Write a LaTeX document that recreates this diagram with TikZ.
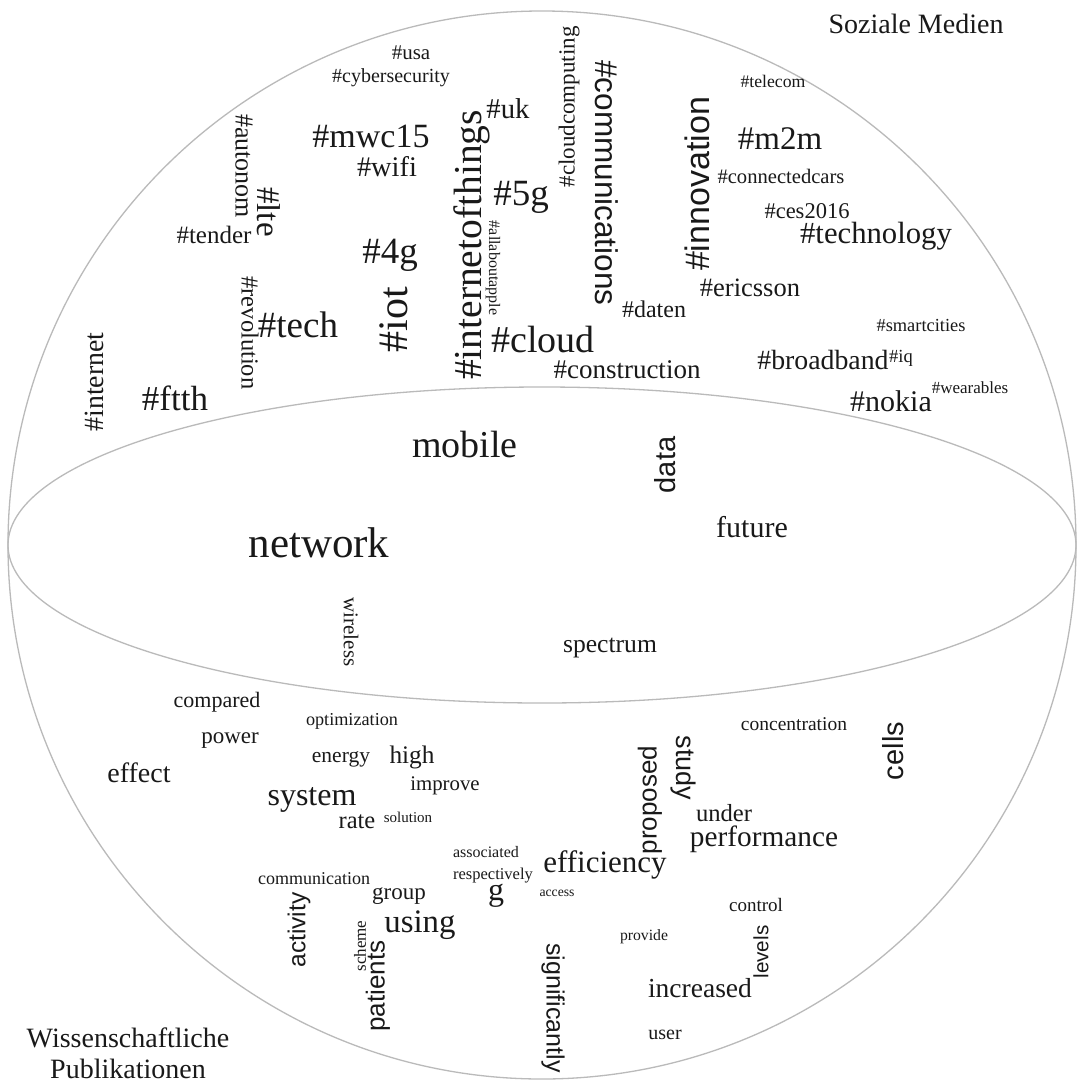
\documentclass[tikz,border=0pt]{standalone}
\usepackage{fontspec}
\setmainfont{Liberation Serif}
\newfontfamily\sanswords{Liberation Sans}
\begin{document}
\begin{tikzpicture}[x=1bp,y=-1bp,
  every node/.style={inner sep=0pt,outer sep=0pt,text=black!90},
  hw/.style={anchor=base,font=\fontsize{#1bp}{#1bp}\selectfont},
  uw/.style={anchor=center,rotate=90,font=\fontsize{#1bp}{#1bp}\selectfont},
  dw/.style={anchor=center,rotate=-90,font=\fontsize{#1bp}{#1bp}\selectfont},
  us/.style={anchor=center,rotate=90,font=\sanswords\fontsize{#1bp}{#1bp}\selectfont},
  ds/.style={anchor=center,rotate=-90,font=\sanswords\fontsize{#1bp}{#1bp}\selectfont},
  outline/.style={draw=black!27,line width=1.3bp}]
\useasboundingbox (0,0) rectangle (1084,1083);
\fill[white] (0,0) rectangle (1084,1083);
% sphere and equator
\draw[outline] (542,545) circle[radius=534];
\draw[outline] (542,545) ellipse[x radius=534,y radius=158];
% group labels
\node[hw=28] (soz) at (916,33) {Soziale Medien};
\node[align=center,font=\fontsize{28bp}{31bp}\selectfont] (wiss) at (128,1053) {Wissenschaftliche\\Publikationen};
% social media hashtags
\node[hw=21] (usa) at (411,59) {\#usa};
\node[hw=20] (cyber) at (391,82) {\#cybersecurity};
\node[hw=28.7] (uk) at (508,118) {\#uk};
\node[hw=34] (mwc) at (371,147) {\#mwc15};
\node[hw=28.4] (wifi) at (387,176) {\#wifi};
\node[dw=26] (autonom) at (244,166) {\#autonom};
\node[dw=33] (lte) at (269,212) {\#lte};
\node[hw=25] (tender) at (214,243) {\#tender};
\node[hw=37] (fourg) at (390,263) {\#4g};
\node[uw=39.5] (iotthings) at (472,245) {\#internetofthings};
\node[hw=37] (fiveg) at (521,205) {\#5g};
\node[dw=16] (allabout) at (493,268) {\#allaboutapple};
\node[uw=23] (cloudcomp) at (569,107) {\#cloudcomputing};
\node[ds=31.5] (comm) at (607,183) {\#communications};
\node[hw=17.7] (telecom) at (773,87) {\#telecom};
\node[us=34] (innov) at (697,184) {\#innovation};
\node[hw=33] (mtm) at (780,149) {\#m2m};
\node[hw=20.6] (conncars) at (781,183) {\#connectedcars};
\node[hw=22.5] (ces) at (807,218) {\#ces2016};
\node[hw=30.7] (technology) at (876,243) {\#technology};
\node[uw=27.8] (internet) at (94,382) {\#internet};
\node[dw=24.5] (revolution) at (250,333) {\#revolution};
\node[hw=37] (tech) at (298,337) {\#tech};
\node[uw=42] (iot) at (394,320) {\#iot};
\node[hw=35] (ftth) at (175,410) {\#ftth};
\node[hw=38] (cloud) at (543,352) {\#cloud};
\node[hw=26.5] (ericsson) at (750,296) {\#ericsson};
\node[hw=24] (daten) at (654,317) {\#daten};
\node[hw=27] (construction) at (627,378) {\#construction};
\node[hw=18.4] (smartcities) at (921,331) {\#smartcities};
\node[hw=27.8] (broadband) at (823,369) {\#broadband};
\node[hw=18.5] (iq) at (901,362) {\#iq};
\node[hw=30] (nokia) at (891,411) {\#nokia};
\node[hw=17] (wearables) at (970,393) {\#wearables};
% shared words
\node[hw=38] (mobile) at (465,457) {mobile};
\node[hw=43] (network) at (319,557) {network};
\node[us=29] (data) at (665,465) {data};
\node[hw=30] (future) at (752,537) {future};
\node[dw=21] (wireless) at (351,632) {wireless};
\node[hw=25.6] (spectrum) at (610,652) {spectrum};
% scientific publications
\node[hw=22] (compared) at (217,707) {compared};
\node[hw=18.2] (optimization) at (352,725) {optimization};
\node[hw=23] (power) at (230,743) {power};
\node[hw=21.5] (energy) at (341,762) {energy};
\node[hw=25.3] (high) at (412,763) {high};
\node[hw=28] (effect) at (139,782) {effect};
\node[hw=20.8] (improve) at (445,790) {improve};
\node[hw=32] (system) at (312,805) {system};
\node[hw=24.5] (rate) at (357,828) {rate};
\node[hw=15] (solution) at (408,822) {solution};
\node[hw=16] (associated) at (486,857) {associated};
\node[hw=16.5] (respectively) at (493,879) {respectively};
\node[hw=18] (communication) at (314,884) {communication};
\node[hw=32] (g) at (496,900) {g};
\node[hw=23] (group) at (399,899) {group};
\node[hw=13.7] (access) at (557,896) {access};
\node[hw=19.5] (concentration) at (794,730) {concentration};
\node[us=29] (cells) at (893,751) {cells};
\node[us=26] (proposed) at (650,800) {proposed};
\node[ds=27] (study) at (683,768) {study};
\node[hw=24.6] (under) at (724,821) {under};
\node[hw=29.3] (performance) at (764,846) {performance};
\node[hw=31] (efficiency) at (605,872) {efficiency};
\node[hw=32.8] (using) at (420,932) {using};
\node[us=24.5] (activity) at (299,930) {activity};
\node[uw=17] (scheme) at (360,946) {scheme};
\node[us=26] (patients) at (378,986) {patients};
\node[ds=25] (significantly) at (553,1008) {significantly};
\node[hw=19] (control) at (756,911) {control};
\node[hw=15.7] (provide) at (644,940) {provide};
\node[us=20.7] (levels) at (761,952) {levels};
\node[hw=27.5] (increased) at (700,997) {increased};
\node[hw=20] (user) at (665,1039) {user};
\end{tikzpicture}
\end{document}
